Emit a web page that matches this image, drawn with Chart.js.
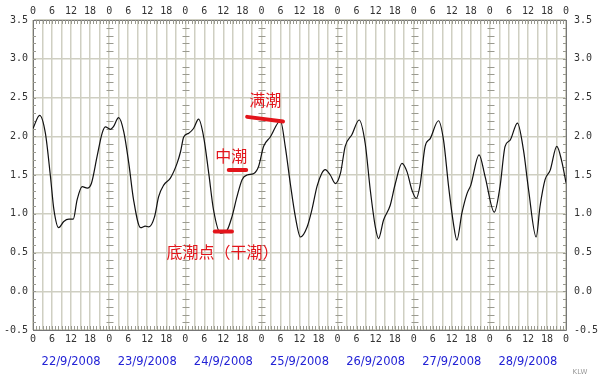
<!DOCTYPE html>
<html>
<head>
<meta charset="utf-8">
<script src="https://cdn.jsdelivr.net/npm/chart.js@4.4.0/dist/chart.umd.min.js"></script>
<style>
  html, body { margin: 0; padding: 0; background: #fff; }
</style>
</head>
<body>
<canvas id="out" width="600" height="389"></canvas>
<script>
// hours from 22/9 00:00, tide level
const hours = [0, 2.1, 3.9, 5.5, 6.6, 8.1, 9.7, 11.3, 12.7, 13.9, 15.5, 17.1, 18.4, 20.2, 21.8, 22.8,
  24.4, 25.3, 27.0, 28.6, 30.2, 31.7, 33.9, 35.4, 36.5, 38.3, 39.6, 41.2, 43.3, 45.4, 46.5, 47.5,
  49.1, 50.6, 52.2, 53.8, 55.4, 56.9, 59.1, 61.2, 62.7, 64.3, 65.9, 67.5, 69.6, 71.1,
  72.7, 74.8, 78.0, 79.5, 81.1, 82.7, 84.3, 86.4, 87.9, 89.5, 91.0, 92.1, 93.7, 95.3,
  96.9, 98.4, 100.5, 102.8, 104.7, 106.3, 107.9, 108.9, 110.5, 112.6, 114.2, 116.3, 117.9, 119.4,
  120.8, 122.0, 123.6, 125.2, 127.8, 129.4, 131.0, 132.5, 133.6, 135.2, 136.8, 138.0, 140.6, 142.5,
  145.4, 147.2, 148.8, 150.4, 152.7, 154.6, 156.2, 158.6, 159.8, 161.4, 163.0, 165.1, 166.7, 168];
const levels = [2.10, 2.27, 2.04, 1.48, 1.05, 0.82, 0.90, 0.93, 0.93, 1.18, 1.35, 1.33, 1.39, 1.74, 2.04, 2.12,
  2.09, 2.12, 2.24, 2.06, 1.65, 1.18, 0.82, 0.84, 0.83, 0.96, 1.22, 1.37, 1.46, 1.65, 1.80, 1.99,
  2.04, 2.10, 2.22, 1.99, 1.52, 1.05, 0.75, 0.79, 0.96, 1.22, 1.44, 1.50, 1.52, 1.61,
  1.87, 1.99, 2.20, 1.87, 1.39, 0.96, 0.70, 0.83, 1.05, 1.35, 1.52, 1.57, 1.50, 1.39,
  1.52, 1.87, 2.02, 2.21, 1.91, 1.31, 0.83, 0.68, 0.92, 1.11, 1.39, 1.65, 1.54, 1.31,
  1.20, 1.37, 1.87, 1.97, 2.20, 1.95, 1.35, 0.88, 0.66, 1.01, 1.26, 1.37, 1.76, 1.48,
  1.02, 1.35, 1.87, 1.95, 2.17, 1.82, 1.31, 0.70, 1.09, 1.44, 1.56, 1.87, 1.67, 1.40];

const dates = ['22/9/2008', '23/9/2008', '24/9/2008', '25/9/2008', '26/9/2008', '27/9/2008', '28/9/2008'];

// red notes: text and where it sits, plus the red stroke under each
const noteTexts = ['满潮', '中潮', '底潮点（干潮）'];
const noteHours = [73.2, 62.5, 59.7];
const noteLevels = [2.47, 1.745, 0.51];
const markFrom = [67.5, 61.7, 57.3];
const markTo = [78.8, 67.2, 62.7];
const markLevelFrom = [2.25, 1.565, 0.77];
const markLevelTo = [2.19, 1.565, 0.77];

const gridColor = '#cfcfc2';
const axisFont = { family: "'DejaVu Sans Mono', monospace", size: 10 };

function hourLabel(v) {
  return v % 6 === 0 ? String(v % 24) : '';
}

const decor = {
  id: 'decor',
  beforeDatasetsDraw(chart) {
    const ctx = chart.ctx, a = chart.chartArea;
    const xs = chart.scales.x, ys = chart.scales.y;
    ctx.save();
    ctx.strokeStyle = '#9a9a90';
    ctx.lineWidth = 1;
    ctx.beginPath();
    // little crosses on the day lines, every 0.1
    for (let d = 1; d < 7; d++) {
      const px = Math.round(xs.getPixelForValue(d * 24)) + 0.5;
      for (let k = -4; k <= 34; k++) {
        if (k % 5 === 0) continue;
        const py = Math.round(ys.getPixelForValue(k / 10)) + 0.5;
        ctx.moveTo(px - 3, py); ctx.lineTo(px + 4, py);
      }
    }
    // hourly ticks on top and bottom borders
    for (let h = 1; h < 168; h++) {
      const px = Math.round(xs.getPixelForValue(h)) + 0.5;
      ctx.moveTo(px, a.top); ctx.lineTo(px, a.top + 4);
      ctx.moveTo(px, a.bottom); ctx.lineTo(px, a.bottom - 4);
    }
    // 0.1 ticks on left and right borders
    for (let k = -4; k <= 34; k++) {
      const py = Math.round(ys.getPixelForValue(k / 10)) + 0.5;
      ctx.moveTo(a.left, py); ctx.lineTo(a.left + 3, py);
      ctx.moveTo(a.right, py); ctx.lineTo(a.right - 3, py);
    }
    ctx.stroke();
    ctx.restore();
  }
};

const notes = {
  id: 'notes',
  afterDatasetsDraw(chart) {
    const ctx = chart.ctx;
    const xs = chart.scales.x, ys = chart.scales.y;
    ctx.save();
    ctx.strokeStyle = '#e3151b';
    ctx.fillStyle = '#e3151b';
    ctx.lineWidth = 4;
    ctx.lineCap = 'round';
    for (let i = 0; i < markFrom.length; i++) {
      ctx.beginPath();
      ctx.moveTo(xs.getPixelForValue(markFrom[i]), ys.getPixelForValue(markLevelFrom[i]));
      ctx.lineTo(xs.getPixelForValue(markTo[i]), ys.getPixelForValue(markLevelTo[i]));
      ctx.stroke();
    }
    ctx.font = "16px 'Noto Sans CJK SC'";
    ctx.textAlign = 'center';
    ctx.textBaseline = 'middle';
    for (let i = 0; i < noteTexts.length; i++) {
      ctx.fillText(noteTexts[i], xs.getPixelForValue(noteHours[i]), ys.getPixelForValue(noteLevels[i]));
    }
    ctx.restore();
  }
};

const dayLabels = {
  id: 'dayLabels',
  afterDraw(chart) {
    const ctx = chart.ctx, a = chart.chartArea, xs = chart.scales.x;
    ctx.save();
    ctx.font = "11.5px 'DejaVu Sans'";
    ctx.fillStyle = '#2323d6';
    ctx.textAlign = 'center';
    ctx.textBaseline = 'middle';
    dates.forEach((d, i) => {
      ctx.fillText(d, xs.getPixelForValue(i * 24 + 12), a.bottom + 32);
    });
    ctx.font = "7px 'DejaVu Sans'";
    ctx.fillStyle = '#999';
    ctx.fillText('KLW', a.right + 14, a.bottom + 42);
    ctx.restore();
  }
};

const xAxis = (pos, h, onArea) => ({
  type: 'linear', position: pos, min: 0, max: 168,
  ticks: { stepSize: 3, autoSkip: false, maxRotation: 0, color: '#333', font: axisFont, padding: 3, callback: hourLabel },
  grid: { color: gridColor, lineWidth: 1.5, drawTicks: false, drawOnChartArea: onArea },
  border: { color: '#777', width: 1 },
  afterFit: s => { s.height = h; }
});

const yAxis = (pos, w, onArea, pad) => ({
  type: 'linear', position: pos, min: -0.5, max: 3.5,
  ticks: { stepSize: 0.5, color: '#333', font: axisFont, padding: pad, callback: v => v.toFixed(1) },
  grid: { color: gridColor, lineWidth: 1.5, drawTicks: false, drawOnChartArea: onArea },
  border: { color: '#777', width: 1 },
  afterFit: s => { s.width = w; }
});

new Chart(document.getElementById('out').getContext('2d'), {
  type: 'line',
  data: {
    datasets: [{
      data: hours.map((h, i) => ({ x: h, y: levels[i] })),
      borderColor: '#111',
      borderWidth: 1.2,
      pointRadius: 0,
      fill: false,
      cubicInterpolationMode: 'monotone'
    }]
  },
  options: {
    responsive: false,
    animation: false,
    devicePixelRatio: 1,
    layout: { padding: 0 },
    plugins: { legend: { display: false }, tooltip: { enabled: false } },
    scales: {
      x: xAxis('bottom', 59, true),
      x2: xAxis('top', 20, false),
      y: yAxis('left', 33, true, 5),
      y2: yAxis('right', 34, false, 8)
    }
  },
  plugins: [decor, notes, dayLabels]
});
</script>
</body>
</html>
